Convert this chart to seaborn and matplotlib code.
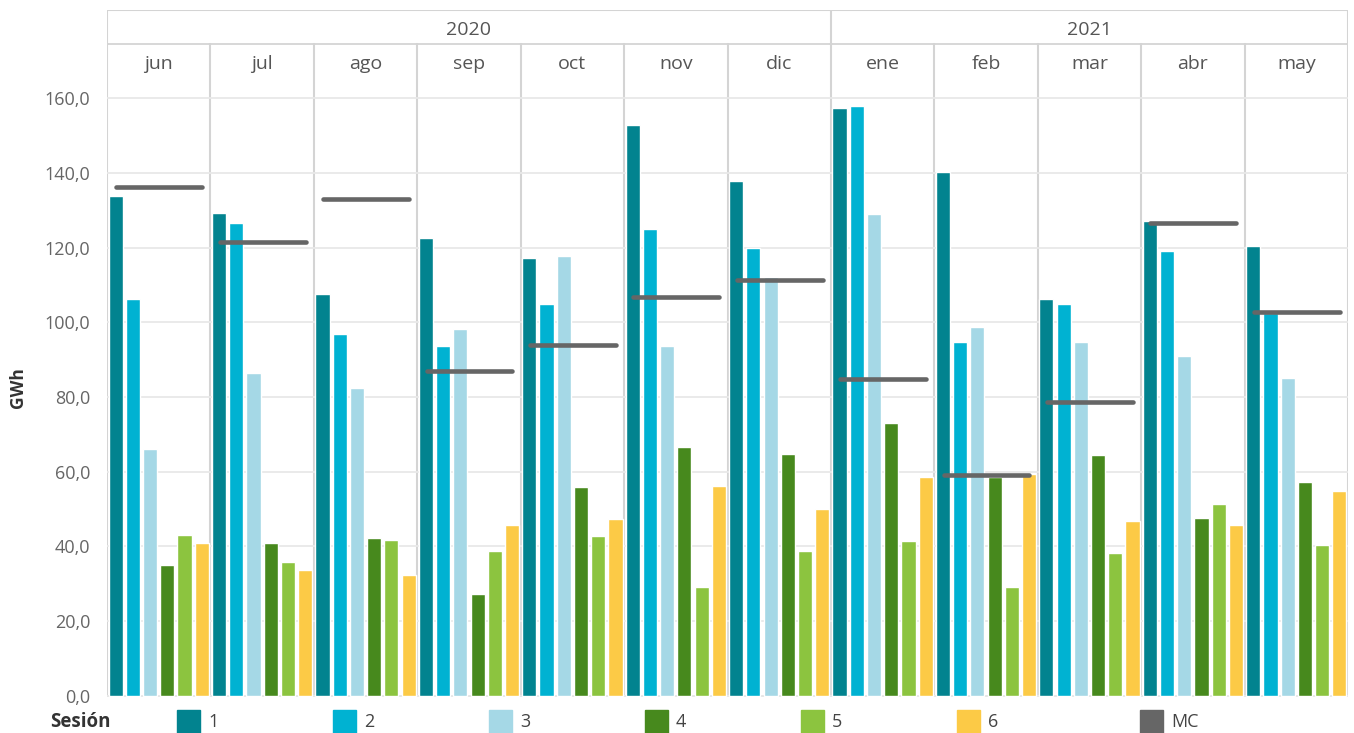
import numpy as np
import pandas as pd
import seaborn as sns
from matplotlib import pyplot as plt
from matplotlib.patches import Rectangle
from matplotlib.ticker import FuncFormatter

# datos

meses = ['jun', 'jul', 'ago', 'sep', 'oct', 'nov', 'dic',
         'ene', 'feb', 'mar', 'abr', 'may']
anios = ['2020', '2021']
meses_por_anio = [7, 5]
sesiones = ['1', '2', '3', '4', '5', '6']

s1 = [133.8, 129.2, 107.6, 122.5, 117.2, 152.8, 137.8, 157.3, 140.2, 106.2, 127.1, 120.4]
s2 = [106.2, 126.6, 96.9, 93.6, 104.9, 124.9, 119.9, 157.9, 94.7, 104.9, 119.1, 102.5]
s3 = [66.1, 86.4, 82.4, 98.2, 117.7, 93.6, 112.1, 129.0, 98.7, 94.7, 91.0, 85.1]
s4 = [35.0, 40.9, 42.3, 27.3, 55.9, 66.6, 64.7, 73.0, 58.7, 64.5, 47.6, 57.3]
s5 = [43.1, 35.9, 41.7, 38.8, 42.8, 29.2, 38.8, 41.5, 29.2, 38.3, 51.4, 40.4]
s6 = [40.9, 33.7, 32.4, 45.8, 47.4, 56.2, 50.0, 58.6, 59.4, 46.8, 45.8, 54.8]
mc = [136.1, 121.4, 132.9, 87.0, 93.8, 106.9, 111.2, 84.7, 59.0, 78.6, 126.5, 102.7]

colores = ['#02838F', '#00B2D2', '#A5D8E6', '#47891D', '#8CC43F', '#FCCA46']
color_mc = '#666666'

df = pd.DataFrame({'mes': meses * 6,
                   'sesion': np.repeat(sesiones, len(meses)),
                   'gwh': s1 + s2 + s3 + s4 + s5 + s6})

sns.set_style('white')
plt.rcParams['font.family'] = ['Open Sans', 'DejaVu Sans']

W, H = 1354, 733
fig = plt.figure(figsize=(W / 100, H / 100), dpi=100)
ax = fig.add_axes([107 / W, 1 - 697 / H, 1241 / W, 619 / H])
axh = fig.add_axes([107 / W, 1 - 78 / H, 1241 / W, 68 / H], sharex=ax)

gris_linea = '#d4d4d4'

# barras

sns.barplot(data=df, x='mes', y='gwh', hue='sesion', palette=colores,
            order=meses, hue_order=sesiones, width=1.0, gap=0.18,
            errorbar=None, legend=False, ax=ax, saturation=1)

# linea MC

x = np.arange(len(meses))
lc = ax.hlines(mc, x - 0.41, x + 0.42, colors=color_mc, linewidth=3.3, zorder=5)
lc.set_capstyle('round')

ax.set_xlim(-0.5, len(meses) - 0.5)
ax.set_ylim(-0.3, 165.4)
ax.set_yticks(np.arange(0, 161, 20))
ax.yaxis.set_major_formatter(FuncFormatter(lambda v, p: f'{v:.1f}'.replace('.', ',')))
ax.tick_params(axis='y', labelsize=13, labelcolor='#666666', length=0, pad=12)
ax.tick_params(axis='x', bottom=False, labelbottom=False)
ax.set_xlabel('')
ax.set_ylabel('GWh', fontsize=12.5, fontweight='bold', color='#333333', labelpad=13)
ax.yaxis.grid(True, color='#e8e8e8', linewidth=1.3)
ax.set_axisbelow(True)
for s in ax.spines.values():
    s.set_visible(False)
for i in range(len(meses) + 1):
    ax.axvline(i - 0.5, color=gris_linea, linewidth=1.5, zorder=0)
ax.axhline(0, color=gris_linea, linewidth=1.3, zorder=0)

# encabezado

axh.set_ylim(0, 2)
axh.axis('off')
axh.axhline(1, color=gris_linea, linewidth=1.3)
axh.axhline(2, color=gris_linea, linewidth=1.5)
for i in range(len(meses) + 1):
    axh.plot([i - 0.5, i - 0.5], [0, 1], color=gris_linea, linewidth=1.5)
inicio = -0.5
for anio, n in zip(anios, meses_por_anio):
    axh.plot([inicio, inicio], [1, 2], color=gris_linea, linewidth=1.5)
    axh.text(inicio + n / 2, 1.42, anio, ha='center', va='center',
             fontsize=14, color='#555555')
    inicio += n
axh.plot([inicio, inicio], [1, 2], color=gris_linea, linewidth=1.5)
for i, m in enumerate(meses):
    axh.text(i, 0.42, m, ha='center', va='center', fontsize=14, color='#555555')

# leyenda

fig.text(50 / W, 1 - 722 / H, 'Sesión', fontsize=13.5, fontweight='bold',
         color='#333333', va='center')
leg_x = [177, 333, 489, 645, 801, 957, 1140]
etiquetas = sesiones + ['MC']
for xi, et, c in zip(leg_x, etiquetas, colores + [color_mc]):
    fig.patches.append(Rectangle((xi / W, 1 - 733 / H), 23 / W, 23 / H,
                                 transform=fig.transFigure, color=c))
    fig.text((xi + 31) / W, 1 - 722 / H, et, fontsize=13, color='#444444', va='center')

plt.savefig('out.png', dpi=100)
